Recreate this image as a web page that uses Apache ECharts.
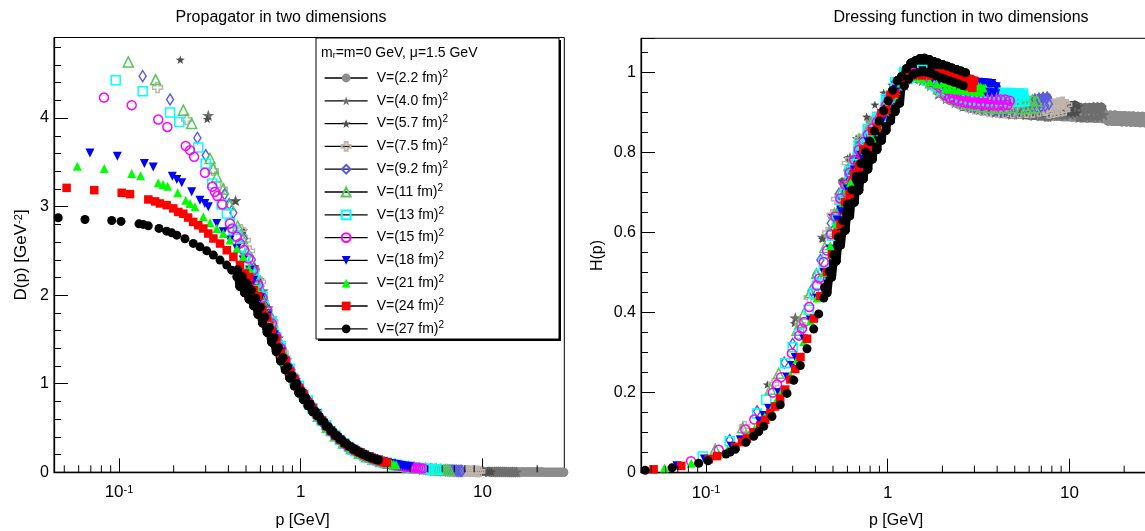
<!DOCTYPE html>
<html>
<head>
<meta charset="utf-8">
<script src="https://cdn.jsdelivr.net/npm/echarts@6/dist/echarts.min.js"></script>
<style>
  html, body { margin: 0; padding: 0; background: #fff; }
  #chart { width: 1145px; height: 531px; }
</style>
</head>
<body>
<div id="chart"></div>
<script>
// momenta p [GeV], propagator D(p) [GeV^-2] and dressing function H(p), one set per lattice volume
var p22 = [0.5635,0.797,1.127,1.26,1.594,1.69,1.78,2.03,2.25,2.5,2.8,3.1,3.5,3.9,4.4,4.9,5.5,6.1,6.8,7.6,8.4,9.3,10.3,11.4,12.6,13.9,15.3,
           15.8,16.3,16.8,17.3,17.8,18.3,18.8,19.4,20.0,20.6,21.2,21.8,22.4,23.1,23.8,24.5,25.2,25.9,26.7,27.5,28.0];
var d22 = [2.29,1.385,0.768,0.62,0.386,0.341,0.305,0.2306,0.1858,0.1488,0.1173,0.095,0.074,0.0594,0.0465,0.0374,0.0296,0.024,0.0193,0.01544,0.01263,0.01029,0.00838,0.00683,0.00559,0.00459,0.00378,
           0.003585,0.003308,0.003168,0.002934,0.002822,0.002622,0.002527,0.00233,0.002233,0.002067,0.001985,0.001843,0.001778,0.001642,0.001573,0.001458,0.001403,0.001304,0.001248,0.001157,0.001133];
var h22 = [0.727,0.88,0.975,0.985,0.98,0.975,0.968,0.95,0.94,0.93,0.92,0.913,0.907,0.903,0.9,0.898,0.896,0.894,0.893,0.892,0.891,0.89,0.889,0.888,0.887,0.886,0.885,
           0.895,0.879,0.894,0.878,0.894,0.878,0.893,0.877,0.893,0.877,0.892,0.876,0.892,0.876,0.891,0.875,0.891,0.875,0.890,0.875,0.888];

var p40 = [0.31,0.438,0.62,0.693,0.877,0.93,0.98,1.1,1.24,1.4,1.55,1.72,1.9,2.1,2.35,2.6,2.9,3.2,3.5,3.9,4.3,4.8,5.3,5.8,6.4,7.0,7.6,8.2,8.8,9.4,10.1,10.8,
           11.0,11.3,11.6,11.9,12.2,12.5,12.85,13.2,13.55,13.9,14.25,14.6,15.0,15.4];
var d40 = [4.03,3.07,2.05,1.74,1.15,1.03,0.94,0.78,0.63,0.502,0.408,0.327,0.262,0.212,0.1675,0.1355,0.1083,0.0886,0.0739,0.0592,0.0486,0.0389,0.0319,0.0266,0.0218,0.0182,0.0154,0.0133,0.01155,0.0101,0.00878,0.00769,
           0.007537,0.006954,0.006778,0.006271,0.006134,0.00569,0.005529,0.005102,0.004978,0.004606,0.004501,0.004175,0.004062,0.003774];
var h40 = [0.3873,0.589,0.788,0.8356,0.8845,0.8908,0.9028,0.944,0.9687,0.984,0.98,0.967,0.946,0.935,0.925,0.916,0.911,0.907,0.905,0.9005,0.8986,0.896,0.896,0.895,0.893,0.892,0.8895,0.894,0.894,0.8924,0.8957,0.897,
           0.912,0.888,0.912,0.888,0.913,0.889,0.913,0.889,0.914,0.890,0.914,0.890,0.914,0.895];

var p57 = [0.2175,0.306,0.437,0.486,0.56,0.60,0.67,0.765,0.85,0.95,1.05,1.2,1.35,1.5,1.7,1.9,2.1,2.35,2.6,2.9,3.2,3.5,3.9,4.3,4.8,5.3,5.8,6.4,7.0,7.6,8.2,8.8,9.4,
           9.7,9.95,10.2,10.45,10.7,10.95,11.2];
var d57 = [4.66,3.99,3.06,2.73,2.33,2.18,1.862,1.521,1.273,1.053,0.88,0.684,0.543,0.438,0.336,0.265,0.213,0.168,0.136,0.1086,0.0887,0.0739,0.0593,0.0487,0.039,0.032,0.0267,0.0219,0.0183,0.0156,0.0134,0.0117,0.0103,
           0.00975,0.00907,0.00882,0.00823,0.00803,0.00751,0.00729];
var h57 = [0.2204,0.3736,0.5844,0.645,0.73,0.786,0.836,0.89,0.92,0.95,0.97,0.985,0.99,0.985,0.97,0.955,0.94,0.928,0.92,0.913,0.908,0.905,0.902,0.9,0.899,0.898,0.898,0.898,0.899,0.9,0.902,0.904,0.906,
           0.917,0.898,0.918,0.899,0.919,0.900,0.915];

var p75 = [0.163,0.236,0.33,0.37,0.468,0.496,0.523,
           0.6,0.7,0.8,0.9,1.0,1.12,1.25,1.4,1.55,1.72,1.9,2.1,2.3,2.5,2.75,3.0,3.3,3.6,4.0,4.4,4.85,5.3,5.8,6.3,6.8,7.3,
           7.5,7.7,7.9,8.1,8.3,8.5,8.72,8.94,9.17,9.4,9.65];
var d75 = [4.345,3.984,3.41,3.20,2.74,2.62,2.50,
           2.15,1.70,1.35,1.10,0.93,0.772,0.632,0.507,0.411,0.329,0.265,0.213,0.176,0.1475,0.121,0.1011,0.0832,0.0697,0.0563,0.0465,0.0383,0.032,0.0268,0.0227,0.0196,0.017,
           0.01632,0.01516,0.01474,0.01373,0.01338,0.0125,0.01215,0.01132,0.01101,0.01026,0.00988];
var h75 = [0.1154,0.2219,0.3713,0.4381,0.6001,0.6446,0.6838,
           0.774,0.833,0.864,0.891,0.93,0.968,0.988,0.993,0.988,0.972,0.955,0.94,0.93,0.922,0.915,0.91,0.906,0.903,0.901,0.9,0.9,0.9,0.901,0.902,0.904,0.906,
           0.918,0.899,0.920,0.901,0.922,0.903,0.924,0.905,0.926,0.907,0.92];

var p92 = [0.135,0.191,0.27,0.30,0.381,0.404,0.426,0.486,0.539,
           0.6,0.68,0.78,0.9,1.0,1.12,1.25,1.4,1.55,1.72,1.9,2.1,2.3,2.5,2.75,3.0,3.3,3.6,3.9,4.2,4.5,4.85,5.2,5.55,5.9,6.25,
           6.45,6.62,6.8,6.98,7.16,7.35,7.54,7.7];
var d92 = [4.473,4.21,3.776,3.58,3.14,3.03,2.93,2.64,2.40,
           2.10,1.76,1.40,1.10,0.935,0.773,0.634,0.508,0.412,0.33,0.265,0.214,0.176,0.148,0.121,0.1016,0.0837,0.0701,0.0597,0.0514,0.0448,0.0386,0.0336,0.0296,0.0262,0.0235,
           0.02243,0.02083,0.02022,0.01878,0.01828,0.01697,0.0165,0.01555];
var h92 = [0.0815,0.1536,0.2753,0.3222,0.4558,0.4945,0.5317,0.6236,0.6973,
           0.756,0.814,0.852,0.891,0.935,0.97,0.99,0.995,0.99,0.975,0.958,0.943,0.932,0.925,0.918,0.914,0.911,0.909,0.908,0.907,0.907,0.908,0.909,0.911,0.913,0.916,
           0.933,0.913,0.935,0.915,0.937,0.917,0.938,0.922];

var p11 = [0.1125,0.159,0.226,0.2512,0.317,0.3306,0.345,0.375,0.406,0.45,0.478,0.51,
           0.56,0.62,0.7,0.8,0.9,1.0,1.12,1.25,1.4,1.55,1.72,1.9,2.1,2.3,2.5,2.75,3.0,3.3,3.6,3.9,4.2,4.5,4.85,
           5.3,5.45,5.6,5.76,5.92,6.08,6.25,6.42,6.6];
var d11 = [4.634,4.435,4.089,3.939,3.544,3.431,3.336,3.20,3.02,2.78,2.64,2.49,
           2.25,2.0,1.70,1.36,1.10,0.935,0.773,0.634,0.508,0.412,0.33,0.266,0.214,0.177,0.148,0.122,0.102,0.084,0.0704,0.06,0.0517,0.045,0.0388,
           0.0330,0.0306,0.0297,0.0275,0.0266,0.0247,0.0239,0.0222,0.0213];
var h11 = [0.0587,0.1121,0.2089,0.2486,0.3561,0.375,0.397,0.45,0.4978,0.563,0.603,0.648,
           0.7056,0.769,0.833,0.870,0.891,0.935,0.97,0.99,0.995,0.99,0.975,0.96,0.945,0.935,0.928,0.922,0.918,0.915,0.913,0.912,0.912,0.912,0.913,
           0.928,0.910,0.930,0.911,0.931,0.912,0.932,0.913,0.93];

var p13 = [0.0959,0.135,0.191,0.2147,0.273,0.30,0.326,0.367,0.392,0.408,0.4256,0.4446,0.4635,0.4935,0.526,
           0.554,0.583,0.617,0.654,0.693,0.734,0.777,0.823,0.872,0.923,0.978,1.036,1.097,1.162,1.231,1.304,1.381,1.463,1.549,1.641,1.738,1.841,1.95,
           2.0,2.12,2.24,2.37,2.51,2.66,2.82,2.98,3.16,3.35,3.55,3.74,3.85,3.96,4.07,4.19,4.31,4.43,4.56,4.7,4.83,4.97,5.11,5.26,5.41,5.56,5.65];
var d13 = [4.428,4.303,4.063,3.957,3.668,3.488,3.262,3.025,2.923,2.81,2.735,2.659,2.546,2.433,2.283,
           2.222,2.054,1.981,1.803,1.706,1.524,1.423,1.261,1.170,1.044,0.976,0.874,0.811,0.720,0.661,0.580,0.530,0.463,0.420,0.364,0.328,0.285,0.258,
           0.239,0.216,0.188,0.171,0.1487,0.1350,0.1173,0.1072,0.0932,0.0847,0.0738,0.0679,0.0627,0.0606,0.0561,0.0541,0.0500,0.0484,0.0447,0.0430,0.0398,0.0384,0.0355,0.0343,0.0317,0.0307,0.0291];
var h13 = [0.0407,0.0784,0.1482,0.1824,0.2734,0.3139,0.3467,0.4074,0.4492,0.4678,0.4954,0.5256,0.547,0.5925,0.6317,
           0.682,0.698,0.754,0.771,0.819,0.821,0.859,0.854,0.890,0.889,0.934,0.938,0.976,0.972,1.002,0.987,1.011,0.990,1.007,0.980,0.992,0.966,0.980,
           0.957,0.970,0.945,0.960,0.937,0.955,0.933,0.952,0.931,0.950,0.930,0.950,0.930,0.950,0.930,0.949,0.929,0.949,0.929,0.949,0.929,0.948,0.928,0.948,0.928,0.948,0.930];

var p15 = [0.0827,0.1175,0.1645,0.1845,0.233,0.246,0.259,0.297,0.326,0.3375,0.3475,0.370,0.408,0.42,0.445,0.4635,0.4875,0.515,0.548,
           0.583,0.617,0.654,0.693,0.734,0.777,0.823,0.872,0.923,0.978,1.036,1.097,1.162,1.231,1.304,1.381,1.463,1.549,1.641,1.738,1.841,1.95,
           2.007,2.066,2.126,2.188,2.252,2.318,2.386,2.455,2.527,2.6,2.68,2.76,2.84,2.92,3.0,3.08,3.16,3.25,3.35,3.44,3.54,3.64,3.74,3.85,3.96,4.07,4.19,4.31,4.43,4.56,4.7];
var d15 = [4.232,4.146,3.984,3.90,3.686,3.638,3.562,3.382,3.224,3.167,3.119,3.025,2.81,2.754,2.659,2.585,2.509,2.415,2.283,
           2.118,1.970,1.828,1.681,1.535,1.400,1.271,1.153,1.051,0.960,0.876,0.796,0.722,0.651,0.585,0.524,0.467,0.415,0.367,0.324,0.286,0.253,
           0.2396,0.2212,0.2115,0.1957,0.1873,0.1735,0.1662,0.1541,0.1477,0.1370,0.1310,0.1213,0.1164,0.1083,0.1042,0.0972,0.0938,0.0872,0.0834,0.0777,0.0746,0.0694,0.0668,0.0619,0.0595,0.0554,0.0531,0.0494,0.0475,0.0442,0.0421];
var h15 = [0.0289,0.0572,0.1078,0.1328,0.2001,0.2202,0.2389,0.2983,0.3426,0.3607,0.3766,0.4141,0.4678,0.4858,0.5265,0.5553,0.5963,0.6405,0.6856,
           0.720,0.750,0.782,0.807,0.827,0.845,0.861,0.877,0.895,0.918,0.940,0.958,0.975,0.986,0.995,0.999,0.999,0.995,0.987,0.979,0.971,0.962,
           0.965,0.944,0.956,0.937,0.950,0.932,0.946,0.929,0.943,0.926,0.941,0.924,0.939,0.923,0.938,0.922,0.937,0.921,0.936,0.920,0.935,0.919,0.934,0.918,0.933,0.918,0.933,0.918,0.933,0.919,0.930];

var p18 = [0.0692,0.0979,0.138,0.1544,0.1965,0.208,0.2215,0.2512,0.279,0.297,0.310,0.345,0.375,0.408,0.445,0.483,0.526,
           0.55,0.6,0.655,0.715,0.78,0.855,0.935,1.02,1.12,1.22,1.34,1.46,1.6,1.75,1.91,
           2.007,2.066,2.126,2.188,2.252,2.318,2.386,2.455,2.527,2.6,2.68,2.76,2.84,2.92,3.0,3.08,3.16,3.25,3.35,3.44,3.54,3.64,3.74,3.85,3.95];
var d18 = [3.607,3.570,3.488,3.449,3.344,3.307,3.269,3.167,3.073,3.036,2.998,2.81,2.716,2.622,2.528,2.396,2.283,
           2.169,1.969,1.765,1.551,1.359,1.166,1.009,0.889,0.764,0.663,0.555,0.468,0.388,0.321,0.267,
           0.2443,0.2249,0.2175,0.2003,0.1936,0.1783,0.1723,0.1588,0.1535,0.1414,0.1363,0.1254,0.1213,0.1119,0.1086,0.1005,0.0977,0.0901,0.0869,0.0804,0.0777,0.0717,0.0696,0.0641,0.0618];
var h18 = [0.0173,0.0342,0.0664,0.0822,0.1291,0.1431,0.1604,0.1998,0.2392,0.2678,0.2881,0.3345,0.3819,0.4365,0.5006,0.559,0.6317,
           0.656,0.709,0.757,0.793,0.827,0.852,0.882,0.925,0.958,0.987,0.997,0.998,0.993,0.984,0.975,
           0.984,0.960,0.983,0.959,0.982,0.958,0.981,0.957,0.980,0.956,0.979,0.955,0.978,0.954,0.977,0.953,0.976,0.952,0.975,0.951,0.974,0.950,0.973,0.950,0.965];

var p21 = [0.059,0.083,0.1175,0.1316,0.1645,0.175,0.185,0.2104,0.233,0.246,0.262,0.291,0.317,0.345,0.375,0.408,0.445,0.483,
           0.52,0.57,0.625,0.685,0.75,0.82,0.9,0.985,1.08,1.18,1.29,1.41,1.55,1.7,1.86,
           2.007,2.066,2.126,2.188,2.252,2.318,2.386,2.455,2.527,2.6,2.68,2.76,2.84,2.92,3.0,3.08,3.16,3.25,3.35];
var d21 = [3.457,3.431,3.375,3.348,3.269,3.25,3.231,3.156,3.073,3.036,2.998,2.885,2.817,2.754,2.697,2.622,2.528,2.433,
           2.300,2.078,1.856,1.635,1.433,1.245,1.069,0.938,0.809,0.700,0.595,0.498,0.410,0.338,0.281,
           0.242,0.225,0.2155,0.2003,0.1919,0.1783,0.1707,0.1588,0.1521,0.1414,0.1349,0.1254,0.1200,0.1119,0.1074,0.1005,0.0967,0.0901,0.0857];
var h21 = [0.0120,0.0236,0.0466,0.058,0.0885,0.0995,0.1106,0.1397,0.1668,0.1837,0.2058,0.2443,0.2831,0.3278,0.3793,0.4365,0.5006,0.5676,
           0.622,0.675,0.725,0.767,0.806,0.837,0.866,0.91,0.944,0.974,0.99,0.99,0.985,0.978,0.972,
           0.975,0.960,0.974,0.959,0.973,0.958,0.972,0.957,0.971,0.956,0.969,0.955,0.968,0.954,0.967,0.953,0.966,0.952,0.962];

var p24 = [0.0515,0.0731,0.1035,0.115,0.145,0.158,0.168,0.183,0.199,0.212,0.226,0.240,0.256,0.273,0.291,0.310,0.331,0.360,0.392,0.426,0.463,0.493,
           0.52,0.55,0.583,0.617,0.654,0.693,0.734,0.777,0.823,0.872,0.923,0.978,1.036,1.097,1.162,1.231,1.304,1.381,1.463,1.549,1.641,1.738,1.841,1.95,
           2.007,2.066,2.126,2.188,2.252,2.318,2.386,2.455,2.527,2.6,2.68,2.76,2.84,2.92,2.98];
var d24 = [3.212,3.186,3.156,3.141,3.081,3.059,3.036,3.017,2.98,2.94,2.92,2.877,2.827,2.79,2.753,2.696,2.64,2.583,2.508,2.433,2.34,2.246,
           2.204,2.056,1.989,1.831,1.749,1.591,1.500,1.350,1.261,1.132,1.055,0.948,0.880,0.788,0.727,0.649,0.587,0.521,0.466,0.414,0.371,0.329,0.294,0.261,
           0.248,0.233,0.221,0.207,0.197,0.182,0.175,0.162,0.156,0.144,0.138,0.127,0.122,0.113,0.110];
var h24 = [0.0085,0.017,0.0338,0.0415,0.0648,0.0764,0.0857,0.101,0.118,0.1321,0.1491,0.1657,0.1853,0.2079,0.2331,0.2591,0.2892,0.3348,0.3854,0.4415,0.5016,0.5458,
           0.596,0.622,0.676,0.697,0.748,0.764,0.808,0.815,0.854,0.861,0.899,0.907,0.945,0.948,0.981,0.983,0.998,0.993,0.998,0.993,0.998,0.993,0.998,0.993,
           0.998,0.993,0.998,0.989,0.997,0.979,0.998,0.976,0.994,0.972,0.989,0.966,0.984,0.962,0.980];

var p27 = [0.0463,0.065,0.0912,0.1026,0.1288,0.136,0.145,0.166,0.183,0.195,0.208,0.2307,0.2563,0.279,0.304,0.3306,0.3597,0.3916,0.417,0.4447,
           0.45,0.463,0.477,0.491,0.505,0.52,0.535,0.55,0.566,0.583,0.6,0.617,0.635,0.654,0.673,0.693,0.713,0.734,0.755,0.777,
           0.8,0.823,0.847,0.872,0.897,0.923,0.95,0.978,1.006,1.036,1.066,1.097,1.129,1.162,1.196,1.231,1.267,1.304,1.342,1.381,
           1.421,1.463,1.505,1.549,1.594,1.641,1.689,1.738,1.789,1.841,1.895,1.95,2.007,2.066,2.126,2.188,2.252,2.318,2.386,2.455,2.527,2.6,2.68];
var d27 = [2.874,2.855,2.843,2.833,2.806,2.799,2.783,2.754,2.723,2.704,2.678,2.637,2.585,2.546,2.501,2.453,2.396,2.34,2.283,2.208,
           2.286,2.099,2.211,2.028,2.137,1.956,2.058,1.881,1.966,1.783,1.864,1.686,1.753,1.581,1.636,1.470,1.520,1.364,1.407,1.257,
           1.294,1.158,1.190,1.063,1.092,0.975,1.003,0.895,0.919,0.820,0.841,0.750,0.769,0.684,0.693,0.638,0.629,0.579,0.569,0.522,
           0.512,0.469,0.459,0.419,0.409,0.373,0.364,0.331,0.322,0.294,0.286,0.260,0.254,0.231,0.225,0.205,0.200,0.182,0.177,0.161,0.157,0.143,0.139];
var h27 = [0.0062,0.0121,0.0236,0.0298,0.0466,0.0518,0.0585,0.0759,0.0912,0.1028,0.1159,0.1404,0.1698,0.1982,0.2311,0.2681,0.310,0.359,0.397,0.4367,
           0.463,0.450,0.503,0.489,0.545,0.529,0.589,0.569,0.630,0.606,0.671,0.642,0.707,0.676,0.741,0.706,0.773,0.735,0.802,0.759,
           0.828,0.784,0.854,0.808,0.879,0.831,0.905,0.856,0.930,0.880,0.956,0.903,0.980,0.924,0.991,0.967,1.010,0.984,1.024,0.996,
           1.030,1.000,1.035,1.002,1.036,1.001,1.033,0.998,1.028,0.993,1.024,0.988,1.020,0.984,1.016,0.980,1.012,0.976,1.008,0.972,1.004,0.968,1.000];

var volumeLabels = ['V=(2.2 fm)', 'V=(4.0 fm)', 'V=(5.7 fm)', 'V=(7.5 fm)', 'V=(9.2 fm)', 'V=(11 fm)',
                    'V=(13 fm)', 'V=(15 fm)', 'V=(18 fm)', 'V=(21 fm)', 'V=(24 fm)', 'V=(27 fm)'];
var minorTicks = [0.05,0.06,0.07,0.08,0.09,0.2,0.3,0.4,0.5,0.6,0.7,0.8,0.9,2,3,4,5,6,7,8,9,20];

var FONT = "'Liberation Sans', Arial, Helvetica, sans-serif";
var STAR = 'path://M0,-10 L2.35,-3.24 9.51,-3.09 3.8,1.24 5.88,8.09 0,4 -5.88,8.09 -3.8,1.24 -9.51,-3.09 -2.35,-3.24Z';
var CROSS = 'path://M-1,-3 L1,-3 L1,-1 L3,-1 L3,1 L1,1 L1,3 L-1,3 L-1,1 L-3,1 L-3,-1 L-1,-1Z';

// ROOT-like marker per volume; bandFrom = momentum above which the points are so dense they merge into a band
var styles = [
  {p: p22, d: d22, h: h22, symbol: 'circle', size: 9, color: '#8c8c8c', open: false, bandFrom: 2.0},
  {p: p40, d: d40, h: h40, symbol: STAR, size: 12, color: '#6e6e6e', open: false, bandFrom: 2.0},
  {p: p57, d: d57, h: h57, symbol: STAR, size: 9, color: '#4d4d4d', open: false, bandFrom: 2.0},
  {p: p75, d: d75, h: h75, symbol: CROSS, size: 10, color: '#bfb5ad', open: true, bandFrom: 2.0},
  {p: p92, d: d92, h: h92, symbol: 'diamond', size: [7, 11], color: '#5c5ce0', open: true, bandFrom: 2.0},
  {p: p11, d: d11, h: h11, symbol: 'triangle', size: 10, color: '#55c855', open: true, bandFrom: 2.0},
  {p: p13, d: d13, h: h13, symbol: 'rect', size: 9, color: '#00ffff', open: true, bandFrom: 0.55},
  {p: p15, d: d15, h: h15, symbol: 'circle', size: 9, color: '#ff00ff', open: true, bandFrom: 2.0},
  {p: p18, d: d18, h: h18, symbol: 'triangle', size: 9, color: '#0000ff', open: false, rotate: 180, bandFrom: 0.55},
  {p: p21, d: d21, h: h21, symbol: 'triangle', size: 9, color: '#00ff00', open: false, bandFrom: 0.52},
  {p: p24, d: d24, h: h24, symbol: 'rect', size: 8.5, color: '#ff0000', open: false, bandFrom: 0.52},
  {p: p27, d: d27, h: h27, symbol: 'circle', size: 9, color: '#000000', open: false, bandFrom: 0.45}
];

function pairs(xs, ys) {
  return xs.map(function (x, i) { return [x, ys[i]]; });
}

function markerSeries(st, name, ys, gi) {
  return {
    type: 'line',
    name: name,
    xAxisIndex: gi,
    yAxisIndex: gi,
    data: pairs(st.p, ys),
    symbol: st.symbol,
    symbolSize: st.size,
    symbolRotate: st.rotate || 0,
    symbolKeepAspect: true,
    showSymbol: true,
    lineStyle: {opacity: 0, color: '#000'},
    itemStyle: {
      color: st.open ? 'rgba(0,0,0,0)' : st.color,
      borderColor: st.color,
      borderWidth: st.open ? 1.5 : 0
    },
    emphasis: {disabled: true},
    animation: false
  };
}

// the densely packed part of a data set: neighbouring points are joined by thick round-capped
// strokes so they read as the solid band the merged markers form in the original
function bandSeries(st, ys, gi) {
  var pts = pairs(st.p, ys).filter(function (pt) { return pt[0] >= st.bandFrom; });
  var segs = pts.map(function (pt, i) {
    var prev = i > 0 ? pts[i - 1] : pt;
    return [pt[0], pt[1], prev[0], prev[1]];
  });
  return {
    type: 'custom',
    xAxisIndex: gi,
    yAxisIndex: gi,
    silent: true,
    clip: false,
    animation: false,
    encode: {x: 0, y: 1},
    data: segs,
    renderItem: function (params, api) {
      var a = api.coord([api.value(2), api.value(3)]);
      var b = api.coord([api.value(0), api.value(1)]);
      return {
        type: 'line',
        shape: {x1: a[0], y1: a[1], x2: b[0], y2: b[1]},
        style: {stroke: st.color, lineWidth: 9, lineCap: 'round'}
      };
    }
  };
}

function minorTickSeries(gi) {
  return {
    type: 'custom',
    xAxisIndex: gi,
    yAxisIndex: gi,
    silent: true,
    clip: false,
    z: 5,
    data: minorTicks.map(function (v) { return [v, 0]; }),
    renderItem: function (params, api) {
      var pt = api.coord([api.value(0), 0]);
      return {
        type: 'line',
        shape: {x1: pt[0], y1: pt[1], x2: pt[0], y2: pt[1] - 7},
        style: {stroke: '#000', lineWidth: 1}
      };
    }
  };
}

var series = [];
[0, 1].forEach(function (gi) {
  styles.forEach(function (st, i) {
    var ys = gi === 0 ? st.d : st.h;
    series.push(markerSeries(st, volumeLabels[i], ys, gi));
    series.push(bandSeries(st, ys, gi));
  });
});
series.push(minorTickSeries(0));
series.push(minorTickSeries(1));

function xAxisFor(gi) {
  return {
    type: 'log',
    gridIndex: gi,
    logBase: 10,
    min: 0.0439,
    max: 28.2,
    axisLine: {lineStyle: {color: '#000', width: 1.3}},
    axisTick: {inside: true, length: 14, lineStyle: {color: '#000', width: 1}},
    splitLine: {show: false},
    axisLabel: {
      color: '#000', fontSize: 17, fontFamily: FONT, margin: 12,
      showMinLabel: false, showMaxLabel: false,
      formatter: function (v) {
        if (Math.abs(v - 0.1) < 1e-9) return '10{sup|-1}';
        return String(Math.round(v));
      },
      rich: {sup: {fontSize: 11, fontFamily: FONT, verticalAlign: 'top', lineHeight: 10, color: '#000'}}
    },
    name: 'p [GeV]',
    nameLocation: 'middle',
    nameGap: 40,
    nameTextStyle: {color: '#000', fontSize: 16, fontFamily: FONT, padding: gi === 0 ? [0, 13, 0, 0] : [0, 0, 0, 0]}
  };
}

var option = {
  backgroundColor: '#fff',
  animation: false,
  textStyle: {fontFamily: FONT},
  grid: [
    {left: 54, top: 37.5, width: 510.3, height: 434.8, show: true, borderColor: '#000', borderWidth: 1, containLabel: false, outerBoundsMode: 'none'},
    {left: 641, top: 38.3, width: 510.3, height: 434.4, show: true, borderColor: '#000', borderWidth: 1, containLabel: false, outerBoundsMode: 'none'}
  ],
  xAxis: [xAxisFor(0), xAxisFor(1)],
  yAxis: [
    {
      type: 'value', gridIndex: 0, min: 0, max: 4.91, interval: 1,
      axisLine: {show: true, lineStyle: {color: '#000', width: 1.3}},
      axisTick: {show: true, inside: true, length: 14, lineStyle: {color: '#000', width: 1}},
      minorTick: {show: true, splitNumber: 5, length: 7, lineStyle: {color: '#000', width: 1}},
      splitLine: {show: false},
      axisLabel: {color: '#000', fontSize: 16, fontFamily: FONT, margin: 5, showMaxLabel: false},
      name: 'D(p) [GeV{sup|-2}]',
      nameLocation: 'middle',
      nameRotate: 90,
      nameGap: 24,
      nameTextStyle: {
        color: '#000', fontSize: 17, fontFamily: FONT,
        rich: {sup: {fontSize: 11, fontFamily: FONT, verticalAlign: 'top', lineHeight: 10, color: '#000'}}
      }
    },
    {
      type: 'value', gridIndex: 1, min: 0, max: 1.086, interval: 0.2,
      axisLine: {show: true, lineStyle: {color: '#000', width: 1.3}},
      axisTick: {show: true, inside: true, length: 14, lineStyle: {color: '#000', width: 1}},
      minorTick: {show: true, splitNumber: 4, length: 7, lineStyle: {color: '#000', width: 1}},
      splitLine: {show: false},
      axisLabel: {color: '#000', fontSize: 16, fontFamily: FONT, margin: 5, showMaxLabel: false},
      name: 'H(p)',
      nameLocation: 'middle',
      nameRotate: 90,
      nameGap: 35,
      nameTextStyle: {color: '#000', fontSize: 16, fontFamily: FONT}
    }
  ],
  legend: {
    orient: 'vertical',
    left: 319,
    top: 64,
    itemWidth: 43,
    itemHeight: 11,
    itemGap: 6.8,
    selectedMode: false,
    z: 8,
    data: volumeLabels,
    lineStyle: {color: '#000', width: 1.3, opacity: 1},
    formatter: function (name) { return '{t|' + name + '}{s|2}'; },
    textStyle: {
      color: '#000', fontFamily: FONT, fontSize: 14,
      rich: {
        t: {fontSize: 14, fontFamily: FONT, lineHeight: 18, padding: [0, 0, 0, 4], color: '#000'},
        s: {fontSize: 10, fontFamily: FONT, lineHeight: 8, verticalAlign: 'top', color: '#000'}
      }
    }
  },
  graphic: [
    {type: 'text', x: 281, y: 18, z: 10, style: {text: 'Propagator in two dimensions', font: '16px ' + FONT, fill: '#000', align: 'center', verticalAlign: 'middle'}},
    {type: 'text', x: 961, y: 18, z: 10, style: {text: 'Dressing function in two dimensions', font: '16px ' + FONT, fill: '#000', align: 'center', verticalAlign: 'middle'}},
    {type: 'rect', z: 6, shape: {x: 318, y: 40, width: 243, height: 301}, style: {fill: '#000'}},
    {type: 'rect', z: 7, shape: {x: 316, y: 38, width: 243, height: 301}, style: {fill: '#fff', stroke: '#000', lineWidth: 1}},
    {type: 'text', x: 321, y: 53, z: 10, style: {
      text: 'm{sub|r}=m=0 GeV, \u03bc=1.5 GeV', font: '14px ' + FONT, fill: '#000', align: 'left', verticalAlign: 'middle',
      rich: {sub: {fontSize: 9, fontFamily: FONT, verticalAlign: 'bottom', lineHeight: 6, fill: '#000'}}
    }}
  ],
  series: series
};

var chart = echarts.init(document.getElementById('chart'), null, {renderer: 'canvas'});
chart.setOption(option);
</script>
</body>
</html>
